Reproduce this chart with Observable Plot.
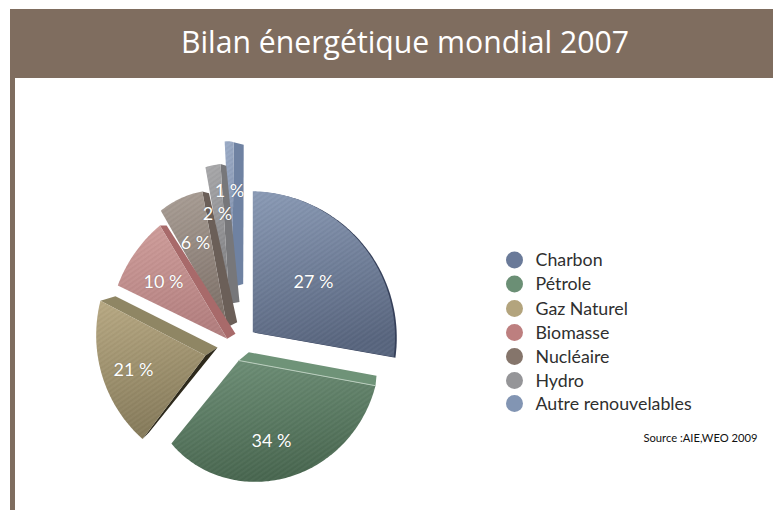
<!DOCTYPE html>
<html lang="fr">
<head>
<meta charset="utf-8">
<script src="https://cdn.jsdelivr.net/npm/d3@7"></script>
<script src="https://cdn.jsdelivr.net/npm/@observablehq/plot@0.6"></script>
<style>
html,body{margin:0;padding:0;background:#fff;width:773px;height:510px;overflow:hidden}
#banner{position:absolute;left:10px;top:9px;width:763px;height:69px;background:#7f6d5f;color:#fff;
font:30.2px "Open Sans",sans-serif;line-height:66px;text-align:center;box-sizing:border-box;padding-left:27px;z-index:2}
#bar{position:absolute;left:10px;top:78px;width:5px;height:432px;background:#7f6d5f;z-index:2}
#chart{position:absolute;left:0;top:0}
#chart svg text{text-shadow:0 0 1px rgba(60,60,60,.45)}
#chart svg .plain text{text-shadow:none}
</style>
</head>
<body>
<div id="banner">Bilan énergétique mondial 2007</div>
<div id="bar"></div>
<div id="chart"></div>
<script>
const categories = ["Charbon","Pétrole","Gaz Naturel","Biomasse","Nucléaire","Hydro","Autre renouvelables"];
const values = [27,34,21,10,6,2,1];
const sourceNote = "Source :AIE,WEO 2009";

const colorsTop = ["#8b9bb6","#6f9078","#b9aa84","#d09f9c","#aba097","#aaaaac","#9dadc8"];
const colorsBottom = ["#59667f","#4a6851","#877c5c","#b48080","#7f726a","#7f7f82","#7c8ca8"];
const colorsSide = ["#36405a","#6f9378","#8f8664","#a86a6a","#6b5f58","#77777a","#6f82a2"];
const colorsLegend = ["#6a7a99","#6b8f75","#b3a47d","#bd7f7f","#85756b","#959598","#8295b3"];

// Exploded, tilted geometry of each wedge as seen in the picture.
const apexX = [252.3,238.3,205,226.7,226.7,229,231.7];
const apexY = [331.7,360,355,338.3,326.7,303.3,286.7];
const radiusStart = [141,139,104.6,121.7,134,138.7,146];
const radiusMid = [140,126,105,126,137,139.5,146];
const radiusEnd = [143,107,118.5,131.8,138,140,145];
const tiltStart = [0,4.2,-0.4,3.7,2.4,0.7,0.6];
const tiltEnd = [3.8,1.6,5.3,1.4,0.3,-0.1,0.6];
const labelX = [313,271,133,163,195,217,229];
const labelY = [282,441,370,282,243,214,191];
const legendY = [259.5,283.5,308,332,356,380,403];

// Extruded edges: slice, edge ("start" or "end"), apex shift, outer shift
const sideFaces = [
  [1,"start",[10,-8.3],[1,-10]],
  [2,"end",[12,-8],[15,-4.3]],
  [2,"start",[12,-8],[6.7,-6.7]],
  [3,"end",[8.3,-5],[6.7,0]],
  [4,"end",[10,-5],[6.7,1.7]],
  [5,"end",[10,-1.7],[5.7,1.7]],
  [6,"end",[11,-3.3],[10,2.5]]
];

const total = d3.sum(values);
const rad = Math.PI/180;
let cum = 0;
const slices = values.map((v,i) => {
  const a0 = cum/total*360 + tiltStart[i];
  cum += v;
  const a1 = cum/total*360 + tiltEnd[i];
  return {i,a0,a1};
});
function polar(i,a,t){
  const L0 = 2*(t-.5)*(t-1), Lm = 4*t*(1-t), L1 = 2*t*(t-.5);
  const r = radiusStart[i]*L0 + radiusMid[i]*Lm + radiusEnd[i]*L1;
  return [apexX[i] + r*Math.sin(a*rad), apexY[i] - r*Math.cos(a*rad)];
}
function wedge(s){
  const pts = [[apexX[s.i],apexY[s.i]]];
  const n = Math.max(6,Math.ceil(s.a1-s.a0));
  for(let k=0;k<=n;k++){const t=k/n; pts.push(polar(s.i,s.a0+(s.a1-s.a0)*t,t));}
  pts.push(pts[0]);
  return pts.map(p=>({x:p[0],y:p[1]}));
}
function side([i,edge,va,vo]){
  const s = slices[i];
  const o = edge==="start" ? polar(i,s.a0,0) : polar(i,s.a1,1);
  const a = [apexX[i],apexY[i]];
  return [a,o,[o[0]+vo[0],o[1]+vo[1]],[a[0]+va[0],a[1]+va[1]],a].map(p=>({x:p[0],y:p[1]}));
}

const defs = () => {
  const ns = "http://www.w3.org/2000/svg";
  const d = document.createElementNS(ns,"defs");
  let html = "";
  categories.forEach((c,i)=>{
    html += `<linearGradient id="g${i}" x1="0" y1="0" x2="0.15" y2="1"><stop offset="0" stop-color="${colorsTop[i]}"/><stop offset="1" stop-color="${colorsBottom[i]}"/></linearGradient>`;
  });
  html += `<pattern id="hatch" width="4" height="4" patternUnits="userSpaceOnUse" patternTransform="rotate(-35)"><rect width="4" height="1.6" fill="#ffffff" opacity="0.03"/><rect y="2.2" width="4" height="1.2" fill="#000000" opacity="0.03"/></pattern>`;
  d.innerHTML = html;
  return d;
};

const line = (pts,fill,extra={}) => Plot.line(pts,{x:"x",y:"y",fill,stroke:"none",curve:"linear",imageFilter:"blur(0.45px)",...extra});

const marks = [defs];
// Charbon's dark rim along its arc
marks.push(line(wedge(slices[0]).map(p=>({x:p.x+1.8,y:p.y+0.6})),colorsSide[0]));
// Back wedges first so nearer ones overlap them, as in the picture
[6,5,4,3,2,1,0].forEach(i=>{
  sideFaces.filter(f=>f[0]===i).forEach(f=>marks.push(line(side(f),f[1]==="start"&&i===2?"#2e2a1c":colorsSide[i])));
  const w = wedge(slices[i]);
  marks.push(line(w,`url(#g${i})`));
  marks.push(line(w,"url(#hatch)"));
});
// Pale highlight between Pétrole's side and its top face
marks.push(Plot.line([polar(1,slices[1].a0,0),[apexX[1],apexY[1]]].map(p=>({x:p[0],y:p[1]})),{x:"x",y:"y",stroke:"#b9cdbd",strokeWidth:1}));

marks.push(Plot.text(values,{x:(d,i)=>labelX[i],y:(d,i)=>labelY[i],text:d=>`${d} %`,fill:"#fff",fontSize:18,fontFamily:"Lato, sans-serif"}));

marks.push(Plot.dot(categories,{x:()=>514,y:(d,i)=>legendY[i],r:8.5,fill:(d,i)=>colorsLegend[i],stroke:"none"}));
marks.push(Plot.text(categories,{x:()=>535,y:(d,i)=>legendY[i]+0.5,text:d=>d,textAnchor:"start",fill:"#2f2f2f",fontSize:17.8,fontFamily:"Lato, sans-serif",className:"plain"}));
marks.push(Plot.text([sourceNote],{x:()=>757,y:()=>438,text:d=>d,textAnchor:"end",fill:"#111",fontSize:11.2,fontFamily:"Lato, sans-serif",className:"plain"}));

const plot = Plot.plot({
  width:773,height:510,margin:0,
  style:{background:"transparent"},
  x:{domain:[0,773],range:[0,773],axis:null},
  y:{domain:[0,510],range:[0,510],axis:null},
  marks
});
document.getElementById("chart").appendChild(plot);
</script>
</body>
</html>
